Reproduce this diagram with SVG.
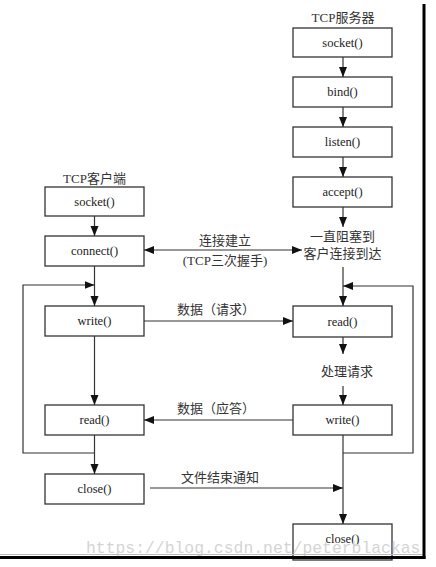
<svg xmlns="http://www.w3.org/2000/svg" width="436" height="567" viewBox="0 0 436 567">
<style>
.box{fill:#fff;stroke:#333;stroke-width:1.3}
.ln{fill:none;stroke:#333;stroke-width:1.2}
.t{font-family:"Liberation Serif","Noto Sans CJK SC",serif;font-size:12.5px;fill:#222;text-anchor:middle}
.c{font-family:"Liberation Serif","Noto Sans CJK SC",sans-serif;font-size:13px;fill:#333;text-anchor:middle}
.wm{font-family:"Liberation Mono",monospace;font-size:16.4px;fill:#d4d4d4}
</style>
<defs>
<marker id="ah" markerUnits="userSpaceOnUse" markerWidth="10" markerHeight="10" viewBox="0 0 10 10" refX="10" refY="5" orient="auto">
<path d="M0,1 L10,5 L0,9 Z" fill="#111"/>
</marker>
<marker id="as" markerUnits="userSpaceOnUse" markerWidth="10" markerHeight="10" viewBox="0 0 10 10" refX="0" refY="5" orient="auto">
<path d="M10,1 L0,5 L10,9 Z" fill="#111"/>
</marker>
</defs>
<rect width="436" height="567" fill="#fff"/>

<text class="c" x="343" y="22">TCP服务器</text>
<text class="c" x="94.5" y="183">TCP客户端</text>

<g id="s_socket"><rect class="box" x="293" y="28" width="99" height="29"/><text class="t" x="342.5" y="47">socket()</text></g>
<g id="s_bind"><rect class="box" x="293" y="77" width="99" height="30"/><text class="t" x="342.5" y="96">bind()</text></g>
<g id="s_listen"><rect class="box" x="293" y="127" width="99" height="30"/><text class="t" x="342.5" y="146">listen()</text></g>
<g id="s_accept"><rect class="box" x="293" y="177" width="99" height="30"/><text class="t" x="342.5" y="196">accept()</text></g>
<g id="s_block"><text class="c" x="342.5" y="241">一直阻塞到</text><text class="c" x="342.5" y="258">客户连接到达</text></g>
<g id="s_read"><rect class="box" x="293" y="306" width="99" height="31"/><text class="t" x="342.5" y="326">read()</text></g>
<g id="s_proc"><text class="c" x="347" y="376">处理请求</text></g>
<g id="s_write"><rect class="box" x="293" y="405" width="99" height="30"/><text class="t" x="342.5" y="424">write()</text></g>
<g id="s_close"><rect class="box" x="293" y="524" width="99" height="36"/><text class="t" x="342.5" y="543">close()</text></g>

<g id="c_socket"><rect class="box" x="45" y="187" width="99" height="29"/><text class="t" x="94.5" y="206">socket()</text></g>
<g id="c_connect"><rect class="box" x="45" y="236" width="99" height="30"/><text class="t" x="94.5" y="255">connect()</text></g>
<g id="c_write"><rect class="box" x="45" y="306" width="99" height="30"/><text class="t" x="94.5" y="325">write()</text></g>
<g id="c_read"><rect class="box" x="45" y="405" width="99" height="30"/><text class="t" x="94.5" y="424">read()</text></g>
<g id="c_close"><rect class="box" x="45" y="474" width="99" height="30"/><text class="t" x="94.5" y="493">close()</text></g>

<g id="connectors">
<path class="ln" d="M343,57 V77" marker-end="url(#ah)"/>
<path class="ln" d="M343,107 V127" marker-end="url(#ah)"/>
<path class="ln" d="M343,157 V177" marker-end="url(#ah)"/>
<path class="ln" d="M343,207 V227" marker-end="url(#ah)"/>
<path class="ln" d="M343,267 V306" marker-end="url(#ah)"/>
<path class="ln" d="M343,453 H413 V286 H343" marker-end="url(#ah)"/>
<path class="ln" d="M343,337 V354" marker-end="url(#ah)"/>
<path class="ln" d="M343,386 V405" marker-end="url(#ah)"/>
<path class="ln" d="M343,435 V524" marker-end="url(#ah)"/>

<path class="ln" d="M94.5,216 V236" marker-end="url(#ah)"/>
<path class="ln" d="M94.5,266 V306" marker-end="url(#ah)"/>
<path class="ln" d="M94.5,453 H23 V285 H94.5" marker-end="url(#ah)"/>
<path class="ln" d="M94.5,336 V405" marker-end="url(#ah)"/>
<path class="ln" d="M94.5,435 V474" marker-end="url(#ah)"/>

<path class="ln" d="M144,250 H302" marker-start="url(#as)" marker-end="url(#ah)"/>
<path class="ln" d="M144,321 H293" marker-end="url(#ah)"/>
<path class="ln" d="M293,420 H144" marker-end="url(#ah)"/>
<path class="ln" d="M150,488 H343" marker-end="url(#ah)"/>

<text class="c" x="225" y="245">连接建立</text>
<text class="c" x="225" y="265">(TCP三次握手)</text>
<text class="c" x="216" y="314">数据（请求）</text>
<text class="c" x="216" y="413">数据（应答）</text>
<text class="c" x="220" y="482">文件结束通知</text>
</g>

<text class="wm" x="86" y="553">https://blog.csdn.net/peterblackas</text>
<line x1="0" y1="554.5" x2="423" y2="554.5" stroke="#bbb" stroke-width="1"/>
<line x1="424" y1="4" x2="424" y2="559" stroke="#000" stroke-width="3"/>
<line x1="0" y1="557.5" x2="425.5" y2="557.5" stroke="#000" stroke-width="3"/>
</svg>
